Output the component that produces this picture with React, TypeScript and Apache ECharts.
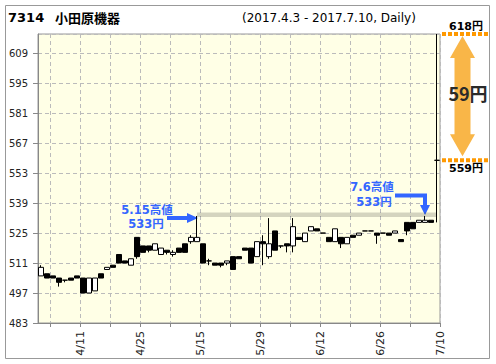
import React, { useEffect, useRef } from 'react';
import * as echarts from 'echarts';

const dates = [
  '4/3', '4/4', '4/5', '4/6', '4/7', '4/10', '4/11', '4/12', '4/13', '4/14',
  '4/17', '4/18', '4/19', '4/20', '4/21', '4/24', '4/25', '4/26', '4/27', '4/28',
  '5/1', '5/8', '5/9', '5/10', '5/11', '5/12', '5/15', '5/16', '5/17', '5/18',
  '5/19', '5/22', '5/23', '5/24', '5/25', '5/26', '5/29', '5/30', '5/31', '6/1',
  '6/2', '6/5', '6/6', '6/7', '6/8', '6/9', '6/12', '6/13', '6/14', '6/15',
  '6/16', '6/19', '6/20', '6/21', '6/22', '6/23', '6/26', '6/27', '6/28', '6/29',
  '6/30', '7/3', '7/4', '7/5', '7/6', '7/7', '7/10',
];

const opens = [
  505, 506, 505, 504, 503, 504, 505, 504, 497, 498,
  506, 508, 510, 515, 512, 510, 523, 519, 519, 517,
  515, 517, 515, 518, 520, 521, 521, 520, 512, 511,
  511, 511, 514, 514, 518, 518, 514, 521, 514, 526,
  519, 520, 519, 523, 521, 526, 527, 525, 523, 521,
  523, 520, 524, 524, 526, 526, 525, 525, 525, 525,
  522, 530, 530, 530, 530, 531, 559,
];
const closes = [
  509, 504, 504, 502, 503, 503, 504, 497, 504, 504,
  504, 509, 509, 511, 511, 513, 514, 516, 517, 520,
  518, 516, 516, 516, 516, 523, 523, 511, 512, 510,
  510, 512, 508, 513, 517, 511, 521, 520, 520, 517,
  519, 519, 528, 522, 525, 528, 526, 525, 521, 527,
  520, 523, 523, 525, 526, 526, 524, 525, 524, 526,
  521, 526, 527, 531, 531, 530, 559,
];
const lows = [
  505, 504, 504, 500, 502, 503, 504, 497, 497, 498,
  504, 508, 509, 511, 511, 510, 513, 516, 516, 517,
  515, 515, 514, 516, 516, 520, 521, 511, 510, 510,
  509, 510, 508, 513, 517, 511, 514, 510, 513, 517,
  518, 516, 516, 522, 521, 526, 526, 525, 521, 521,
  518, 520, 523, 524, 526, 526, 520, 525, 524, 525,
  521, 524, 527, 530, 530, 530, 530,
];
const highs = [
  510, 506, 505, 504, 503, 504, 505, 504, 504, 504,
  506, 509, 510, 515, 512, 513, 523, 519, 519, 520,
  518, 517, 517, 518, 520, 524, 533, 520, 513, 511,
  511, 512, 514, 514, 518, 518, 521, 524, 532, 526,
  519, 520, 532, 523, 525, 528, 527, 525, 523, 527,
  523, 523, 524, 525, 526, 526, 525, 525, 525, 526,
  522, 530, 530, 531, 533, 531, 618,
];

const xLabelDates = ['4/11', '4/25', '5/15', '5/29', '6/12', '6/26', '7/10'];
const yMin = 483;
const yMax = 618;
const yStep = 14;
const highDates = ['5/15', '7/6'];

const FONT = '"DejaVu Sans", "Noto Sans CJK JP", sans-serif';

export default function App() {
  const ref = useRef<HTMLDivElement>(null);
  useEffect(() => {
    const chart = echarts.init(ref.current!, null, { renderer: 'svg' });
    const n = dates.length;
    const tickAt = (j: number) => j > 0 && (n - j) % 5 === 0;
    const labelAt = (j: number, v: string) => xLabelDates.includes(v);
    const candle = dates.map((_, i) => [opens[i], closes[i], lows[i], highs[i]]);
    const prevHigh = highs[dates.indexOf(highDates[0])];

    chart.setOption({
      animation: false,
      grid: {
        left: 38, right: 56, top: 34, bottom: 41,
        show: true, backgroundColor: '#ffffe6', borderColor: '#999', borderWidth: 1,
      },
      xAxis: [
        {
          type: 'category', data: dates, boundaryGap: true, position: 'top',
          axisLine: { show: false }, axisTick: { show: false },
          axisLabel: { show: false }, splitLine: { show: false },
        },
        {
          type: 'category', data: ['', ...dates], boundaryGap: false, position: 'bottom',
          axisLine: { show: true, lineStyle: { color: '#888' } },
          axisTick: { show: true, interval: tickAt, length: 4, lineStyle: { color: '#888' } },
          axisLabel: {
            interval: labelAt, rotate: 90, fontSize: 11, color: '#222',
            fontFamily: FONT, margin: 8,
          },
          splitLine: { show: true, interval: tickAt, lineStyle: { color: '#bbb', type: [4, 3] } },
        },
      ],
      yAxis: {
        type: 'value', min: yMin, max: yMax, interval: yStep,
        axisLine: { show: true, lineStyle: { color: '#888' } },
        axisTick: { show: true, length: 5, lineStyle: { color: '#888' } },
        axisLabel: { fontSize: 10, color: '#222', margin: 10, showMaxLabel: false, fontFamily: FONT },
        splitLine: { show: true, lineStyle: { color: '#bbb', type: [4, 3] } },
      },
      series: [
        {
          type: 'candlestick', xAxisIndex: 0, data: candle, barWidth: 5,
          itemStyle: {
            color: '#fff', color0: '#000', borderColor: '#000', borderColor0: '#000',
            borderColorDoji: '#000', borderWidth: 1,
          },
          markArea: {
            silent: true,
            itemStyle: { color: 'rgba(0,0,0,0.17)' },
            data: [[{ xAxis: highDates[0], yAxis: prevHigh - 0.5 }, { xAxis: dates[n - 1], yAxis: prevHigh + 1.6 }]],
          },
        },
      ],
    });

    const px = (d: string) => chart.convertToPixel({ xAxisIndex: 0 }, d) as number;
    const py = (v: number) => chart.convertToPixel({ yAxisIndex: 0 }, v) as number;

    const spikeHigh = highs[n - 1];
    const spikeClose = closes[n - 1];
    const diff = spikeHigh - spikeClose;
    const yTop = py(spikeHigh);
    const yBot = py(spikeClose);
    const ax = 462.5;
    const a0 = yTop + 2;
    const a1 = yBot - 4;
    const orangeArrow = [
      [ax, a0], [ax + 12.5, a0 + 22], [ax + 8, a0 + 22], [ax + 8, a1 - 22], [ax + 12.5, a1 - 22],
      [ax, a1], [ax - 12.5, a1 - 22], [ax - 8, a1 - 22], [ax - 8, a0 + 22], [ax - 12.5, a0 + 22],
    ];

    const t1x = px(highDates[0]) + 1;
    const t1y = py(prevHigh) + 2;
    const blue1 = [
      [t1x - 31, t1y - 2], [t1x - 11, t1y - 2], [t1x - 11, t1y - 5], [t1x, t1y],
      [t1x - 11, t1y + 5], [t1x - 11, t1y + 2], [t1x - 31, t1y + 2],
    ];
    const t2x = px(highDates[1]);
    const t2y = py(highs[dates.indexOf(highDates[1])]) - 1;
    const blue2 = [
      [t2x - 30, t2y - 21.5], [t2x + 2, t2y - 21.5], [t2x + 2, t2y - 10], [t2x + 5, t2y - 10],
      [t2x, t2y], [t2x - 5, t2y - 10], [t2x - 2, t2y - 10], [t2x - 2, t2y - 17.5], [t2x - 30, t2y - 17.5],
    ];
    const lbl = (d: string) => d.replace('/', '.') + '高値';
    const blueColor = '#3366ff';
    const blueFont = `bold 11.5px ${FONT}`;

    chart.setOption({
      graphic: [
        { type: 'rect', shape: { x: 5.5, y: 5.5, width: 484, height: 353 }, style: { fill: 'none', stroke: '#999', lineWidth: 1 } },
        { type: 'text', x: 8, y: 17, style: { text: '7314', fill: '#000', font: `bold 13px ${FONT}`, textVerticalAlign: 'middle' } },
        { type: 'text', x: 55, y: 17, style: { text: '小田原機器', fill: '#000', font: `bold 13px "Noto Sans CJK JP", sans-serif`, textVerticalAlign: 'middle' } },
        { type: 'text', x: 242, y: 18, style: { text: `(2017.${dates[0].replace('/', '.')} - 2017.${dates[n - 1].replace('/', '.')}, Daily)`, fill: '#000', font: `12px ${FONT}`, textVerticalAlign: 'middle' } },
        { type: 'line', shape: { x1: 442, y1: yTop, x2: 490, y2: yTop }, style: { stroke: '#ff9900', lineWidth: 4, lineDash: [4, 2] } },
        { type: 'line', shape: { x1: 442, y1: yBot, x2: 490, y2: yBot }, style: { stroke: '#ff9900', lineWidth: 4, lineDash: [4, 2] } },
        { type: 'polygon', shape: { points: orangeArrow }, style: { fill: '#f9b648' } },
        { type: 'text', x: 466, y: yTop - 8, style: { text: `${spikeHigh}円`, fill: '#000', font: `bold 11px ${FONT}`, textAlign: 'center', textVerticalAlign: 'middle' } },
        { type: 'text', x: 466, y: yBot + 8, style: { text: `${spikeClose}円`, fill: '#000', font: `bold 11px ${FONT}`, textAlign: 'center', textVerticalAlign: 'middle' } },
        { type: 'text', x: 468, y: (yTop + yBot) / 2 - 4, style: { text: `${diff}円`, fill: '#2a2a2a', font: `bold 18px "Noto Sans CJK JP", sans-serif`, textAlign: 'center', textVerticalAlign: 'middle' } },
        { type: 'polygon', shape: { points: blue1 }, style: { fill: blueColor } },
        { type: 'polygon', shape: { points: blue2 }, style: { fill: blueColor } },
        { type: 'text', x: 147, y: 210, style: { text: lbl(highDates[0]), fill: blueColor, font: blueFont, textAlign: 'center', textVerticalAlign: 'middle' } },
        { type: 'text', x: 146, y: 224, style: { text: `${prevHigh}円`, fill: blueColor, font: blueFont, textAlign: 'center', textVerticalAlign: 'middle' } },
        { type: 'text', x: 372, y: 187, style: { text: lbl(highDates[1]), fill: blueColor, font: blueFont, textAlign: 'center', textVerticalAlign: 'middle' } },
        { type: 'text', x: 374, y: 202, style: { text: `${highs[dates.indexOf(highDates[1])]}円`, fill: blueColor, font: blueFont, textAlign: 'center', textVerticalAlign: 'middle' } },
      ],
    });
    return () => chart.dispose();
  }, []);
  return <div ref={ref} style={{ position: 'absolute', left: 0, top: 0, width: 496, height: 364 }} />;
}
